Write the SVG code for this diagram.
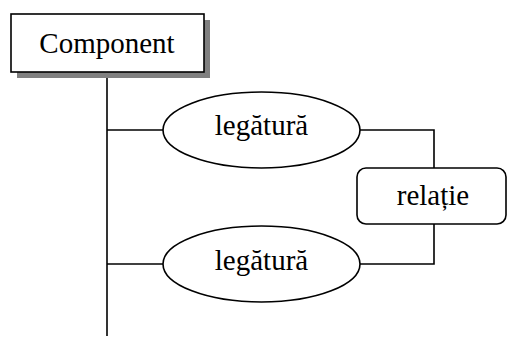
<svg xmlns="http://www.w3.org/2000/svg" width="508" height="338" viewBox="0 0 508 338">
  <style>
    .shape { fill: #ffffff; stroke: #000000; stroke-width: 1.6; }
    .shadow { fill: #808080; stroke: none; }
    .wire { fill: none; stroke: #000000; stroke-width: 1.6; }
    .label { font-family: 'Liberation Serif', Tinos, 'Times New Roman', 'DejaVu Serif', serif; font-size: 29px; fill: #000000; text-anchor: middle; }
  </style>
  <rect width="508" height="338" fill="#ffffff"/>

  <!-- connectors -->
  <g id="connectors">
    <path class="wire" d="M107,72 V336"/>
    <path class="wire" d="M107,130 H163"/>
    <path class="wire" d="M107,264 H163"/>
    <path class="wire" d="M360,130 H434 V168"/>
    <path class="wire" d="M360,264 H434 V224"/>
  </g>

  <g id="component">
    <rect class="shadow" x="17" y="20" width="193" height="58"/>
    <rect class="shape" x="11" y="14" width="193" height="58"/>
    <text class="label" x="107" y="53">Component</text>
  </g>

  <g id="legatura-1">
    <ellipse class="shape" cx="261.5" cy="130" rx="98.5" ry="38"/>
    <text class="label" x="261.5" y="135">legătură</text>
  </g>

  <g id="legatura-2">
    <ellipse class="shape" cx="261.5" cy="264" rx="98.5" ry="38"/>
    <text class="label" x="261.5" y="270">legătură</text>
  </g>

  <g id="relatie">
    <rect class="shape" x="357" y="168" width="149" height="56" rx="9" ry="9"/>
    <text class="label" x="433" y="205">relație</text>
  </g>
</svg>
